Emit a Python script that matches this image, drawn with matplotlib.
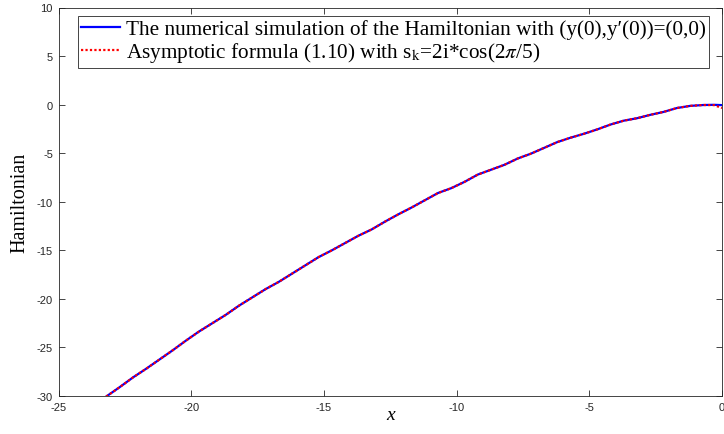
import matplotlib
matplotlib.use("Agg")
import matplotlib.pyplot as plt

x_vals = [-23.2, -22.7, -22.2, -21.7, -21.2, -20.7, -20.2, -19.7, -19.2, -18.7,
          -18.2, -17.7, -17.2, -16.7, -16.2, -15.7, -15.2, -14.7, -14.2, -13.7,
          -13.2, -12.7, -12.2, -11.7, -11.2, -10.7, -10.2, -9.7, -9.2, -8.7,
          -8.2, -7.7, -7.2, -6.7, -6.2, -5.7, -5.2, -4.7, -4.2, -3.7,
          -3.2, -2.7, -2.2, -1.7, -1.2, -0.7, -0.3, 0.0]
h_numeric = [-30.05, -29.1, -28.1, -27.2, -26.25, -25.3, -24.3, -23.35, -22.5, -21.65,
             -20.7, -19.85, -19.0, -18.25, -17.4, -16.55, -15.7, -15.0, -14.25, -13.5,
             -12.85, -12.05, -11.3, -10.6, -9.85, -9.1, -8.6, -7.95, -7.2, -6.7,
             -6.2, -5.55, -5.05, -4.45, -3.85, -3.4, -3.0, -2.55, -2.05, -1.65,
             -1.4, -1.05, -0.75, -0.35, -0.13, -0.04, -0.02, -0.05]
h_asymptotic = [-30.05, -29.1, -28.1, -27.2, -26.25, -25.3, -24.3, -23.35, -22.5, -21.65,
                -20.7, -19.85, -19.0, -18.25, -17.4, -16.55, -15.7, -15.0, -14.25, -13.5,
                -12.85, -12.05, -11.3, -10.6, -9.85, -9.1, -8.6, -7.95, -7.2, -6.7,
                -6.2, -5.55, -5.05, -4.45, -3.85, -3.4, -3.0, -2.55, -2.05, -1.65,
                -1.4, -1.05, -0.75, -0.35, -0.13, -0.04, -0.05, -0.35]

x_ticks = [-25, -20, -15, -10, -5, 0]
y_ticks = [-30, -25, -20, -15, -10, -5, 0, 5, 10]

label_num = "The numerical simulation of the Hamiltonian with (y(0),y\u2032(0))=(0,0)"
label_asy = r"Asymptotic formula (1.10) with s$_\mathrm{k}$=2i*cos(2$\pi$/5)"

plt.rcParams['mathtext.fontset'] = 'stix'
plt.rcParams['mathtext.rm'] = 'Liberation Serif'

W, H = 724, 435
top_px, bot_px, left_px, right_px = 8.5, 397, 58.5, 722
fig = plt.figure(figsize=(W / 100, H / 100), dpi=100)
ax = fig.add_axes([left_px / W, 1 - bot_px / H, (right_px - left_px) / W, (bot_px - top_px) / H])

ax.plot(x_vals, h_numeric, color='#0000ff', lw=1.6, label=label_num)
ax.plot(x_vals, h_asymptotic, color='#ff0000', lw=1.6, ls=(0, (1, 1)), label=label_asy)

ax.set_xlim(-25, 0)
ax.set_ylim(-30, 10)
ax.set_xticks(x_ticks)
ax.set_yticks(y_ticks)
ax.set_xticklabels([str(v) for v in x_ticks], family='Liberation Sans', fontsize=8)
ax.set_yticklabels([str(v) for v in y_ticks], family='Liberation Sans', fontsize=8)
ax.tick_params(direction='in', top=True, right=True, length=4, width=0.6, colors='#262626', pad=4)
for s in ax.spines.values():
    s.set_color('#262626')
    s.set_linewidth(0.6)

ax.set_xlabel('x', family='Liberation Serif', style='italic', fontsize=14, labelpad=-4)
ax.set_ylabel('Hamiltonian', family='Liberation Serif', fontsize=14.5, labelpad=5)

ax_w = right_px - left_px
ax_h = bot_px - top_px
leg = ax.legend(loc='upper left',
                bbox_to_anchor=((77.7 - left_px) / ax_w, (bot_px - 17.3) / ax_h),
                prop={'family': ['Liberation Serif', 'DejaVu Serif'], 'size': 15.3},
                handlelength=1.85, handletextpad=0.25, borderpad=0.15, labelspacing=0.05,
                fancybox=False, framealpha=1, edgecolor='#262626', borderaxespad=0)
leg.get_frame().set_linewidth(0.6)

fig.savefig('out.png', dpi=100)
